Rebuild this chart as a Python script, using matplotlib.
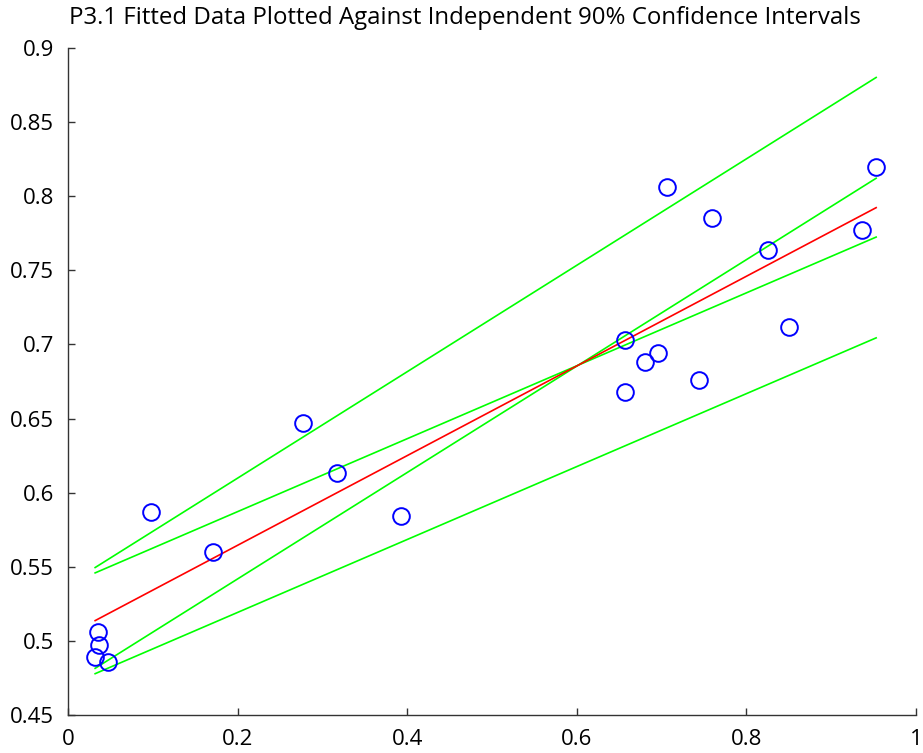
import numpy as np
import matplotlib.pyplot as plt

# observed data (x, y)
xData = [0.032, 0.035, 0.037, 0.047, 0.098, 0.171, 0.277, 0.317, 0.393, 0.657,
         0.657, 0.680, 0.696, 0.744, 0.706, 0.759, 0.825, 0.850, 0.936, 0.953]
yData = [0.489, 0.506, 0.497, 0.486, 0.587, 0.560, 0.647, 0.613, 0.584, 0.703,
         0.668, 0.688, 0.694, 0.676, 0.806, 0.785, 0.764, 0.712, 0.777, 0.820]

# fitted line and independent 90% intervals on intercept / slope
intercept = 0.504
slope = 0.3025
interceptHalf = 0.034
slopeHalf = 0.0565

xTicks = [0, 0.2, 0.4, 0.6, 0.8, 1]
yTicks = [0.45, 0.5, 0.55, 0.6, 0.65, 0.7, 0.75, 0.8, 0.85, 0.9]

plt.rcParams['font.family'] = ['Open Sans', 'DejaVu Sans']

W, H = 923, 753
fig = plt.figure(figsize=(W / 100, H / 100), dpi=100)
ax = fig.add_axes([68 / W, 1 - 715 / H, (916 - 68) / W, (715 - 48) / H])

xEnds = np.array([min(xData), max(xData)])
for a in (intercept - interceptHalf, intercept + interceptHalf):
    for b in (slope - slopeHalf, slope + slopeHalf):
        ax.plot(xEnds, a + b * xEnds, color='#00ff00', lw=1.2)
ax.plot(xEnds, intercept + slope * xEnds, color='#ff0000', lw=1.2)
ax.plot(xData, yData, 'o', mfc='none', mec='#0000ff', ms=12, mew=1.4)

ax.set_xlim(0, 1)
ax.set_ylim(0.45, 0.9)
ax.set_xticks(xTicks)
ax.set_xticklabels(['0', '0.2', '0.4', '0.6', '0.8', '1'])
ax.set_yticks(yTicks)
ax.set_yticklabels(['0.45', '0.5', '0.55', '0.6', '0.65', '0.7', '0.75', '0.8', '0.85', '0.9'])
ax.spines['top'].set_visible(False)
ax.spines['right'].set_visible(False)
for s in ('left', 'bottom'):
    ax.spines[s].set_color('#333333')
    ax.spines[s].set_linewidth(1.0)
ax.tick_params(direction='in', length=5, width=1, color='#333333',
               labelsize=16, labelcolor='#000000', pad=10)

fig.text(465 / W, 1 - 18 / H, 'P3.1 Fitted Data Plotted Against Independent 90% Confidence Intervals',
         ha='center', va='center', fontsize=17.3, color='#000000')

fig.savefig('out.png', dpi=100)
